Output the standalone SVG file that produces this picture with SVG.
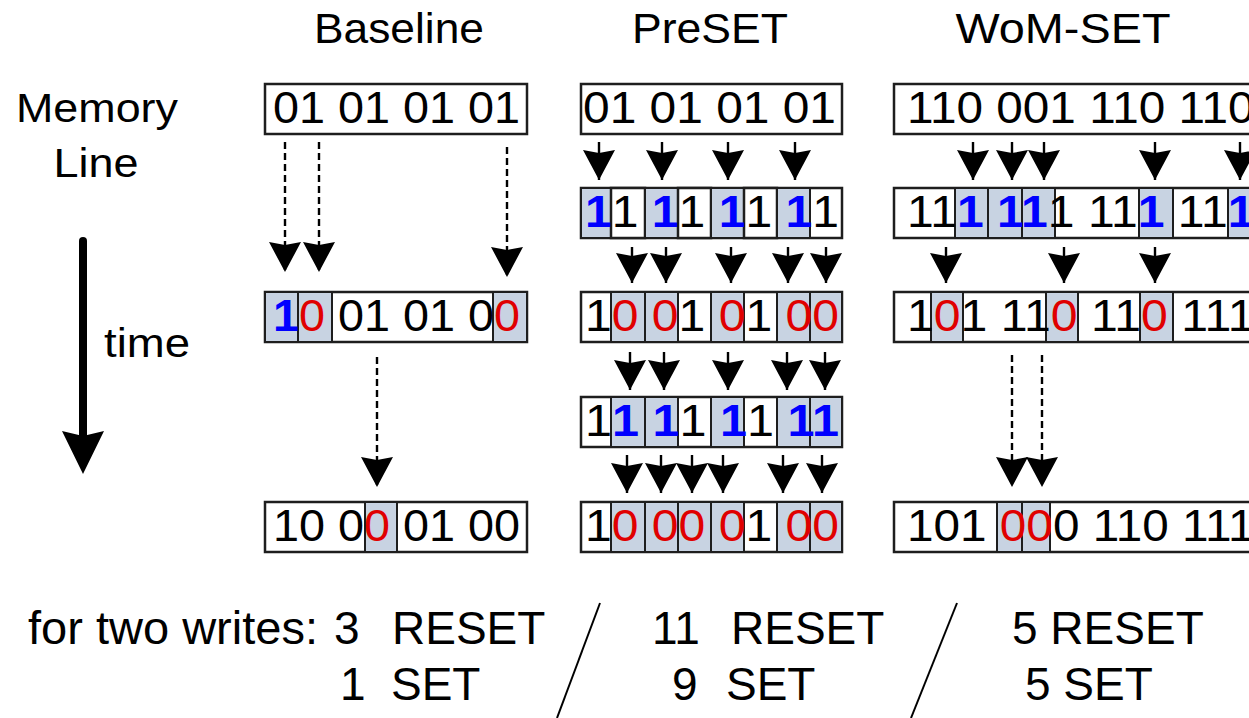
<svg xmlns="http://www.w3.org/2000/svg" width="1249" height="718" viewBox="0 0 1249 718">
<style>
text{font-family:"Liberation Sans",Arial,sans-serif;fill:#000}
.t{font-size:43px}
.lbl{font-size:41px}
.d{font-size:45px}
.bt{font-size:46px}
.b{fill:#0000ff;font-weight:bold}
.r{fill:#e00000}
.box{fill:#fff;stroke:#1e1e1e;stroke-width:2.5}
.c{fill:#c8d3e2;stroke:#1e1e1e;stroke-width:2}
.arr{stroke:#000;stroke-width:2.4;fill:none;marker-end:url(#ah)}
.dash{stroke-dasharray:7 4}
</style>
<defs>
<marker id="ah" viewBox="0 0 30 32" refX="30" refY="16" markerWidth="30" markerHeight="32" markerUnits="userSpaceOnUse" orient="auto">
<path d="M0,0 L30,16 L0,32 L3,16 Z" fill="#000"/>
</marker>
</defs>
<rect width="1249" height="718" fill="#fff"/>

<g id="titles">
<text class="t" x="399" y="43" text-anchor="middle" textLength="170" lengthAdjust="spacingAndGlyphs">Baseline</text>
<text class="t" x="710" y="43" text-anchor="middle" textLength="156" lengthAdjust="spacingAndGlyphs">PreSET</text>
<text class="t" x="1063" y="43" text-anchor="middle" textLength="215" lengthAdjust="spacingAndGlyphs">WoM-SET</text>
</g>

<g id="memory-line-label">
<text class="lbl" x="97" y="122" text-anchor="middle" textLength="162" lengthAdjust="spacingAndGlyphs">Memory</text>
<text class="lbl" x="96" y="177" text-anchor="middle" textLength="85" lengthAdjust="spacingAndGlyphs">Line</text>
</g>

<g id="time-axis">
<line x1="83" y1="241" x2="83" y2="440" stroke="#000" stroke-width="8" stroke-linecap="round"/>
<path d="M62,431 L83,436 L104,431 L83,474 Z" fill="#000"/>
<text class="lbl" x="104" y="357" textLength="86" lengthAdjust="spacingAndGlyphs">time</text>
</g>

<!-- Baseline column -->
<g id="baseline-row1">
<rect class="box" x="265" y="84" width="262" height="50"/>
<text class="d" x="273" y="123" textLength="247" lengthAdjust="spacingAndGlyphs">01 01 01 01</text>
</g>
<g id="baseline-row2">
<rect class="box" x="265" y="292" width="262" height="50"/>
<rect class="c" x="265" y="292" width="33" height="50"/>
<rect class="c" x="298" y="292" width="34" height="50"/>
<rect class="c" x="493" y="292" width="34" height="50"/>
<text class="d" x="273" y="331" textLength="247" lengthAdjust="spacingAndGlyphs"><tspan class="b">1</tspan><tspan class="r">0</tspan> 01 01 0<tspan class="r">0</tspan></text>
</g>
<g id="baseline-row3">
<rect class="box" x="265" y="502" width="262" height="50"/>
<rect class="c" x="365" y="502" width="32" height="50"/>
<text class="d" x="273" y="541" textLength="247" lengthAdjust="spacingAndGlyphs">10 0<tspan class="r">0</tspan> 01 00</text>
</g>

<!-- PreSET column -->
<g id="preset-row1">
<rect class="box" x="581" y="84" width="261" height="50"/>
<text class="d" x="583" y="123" textLength="253" lengthAdjust="spacingAndGlyphs">01 01 01 01</text>
</g>
<g id="preset-row2">
<rect class="box" x="581" y="188" width="261" height="50"/>
<rect class="c" x="581" y="188" width="30" height="50"/>
<rect class="box" x="611" y="188" width="34" height="50"/>
<rect class="c" x="645" y="188" width="33" height="50"/>
<rect class="box" x="678" y="188" width="33" height="50"/>
<rect class="c" x="711" y="188" width="33" height="50"/>
<rect class="box" x="744" y="188" width="33" height="50"/>
<rect class="c" x="777" y="188" width="33" height="50"/>
<text class="d" x="585" y="227" textLength="254" lengthAdjust="spacingAndGlyphs"><tspan class="b">1</tspan>1 <tspan class="b">1</tspan>1 <tspan class="b">1</tspan>1 <tspan class="b">1</tspan>1</text>
</g>
<g id="preset-row3">
<rect class="box" x="581" y="292" width="261" height="50"/>
<rect class="c" x="611" y="292" width="34" height="50"/>
<rect class="c" x="645" y="292" width="33" height="50"/>
<rect class="c" x="711" y="292" width="33" height="50"/>
<rect class="c" x="777" y="292" width="33" height="50"/>
<rect class="c" x="810" y="292" width="32" height="50"/>
<text class="d" x="585" y="331" textLength="254" lengthAdjust="spacingAndGlyphs">1<tspan class="r">0</tspan> <tspan class="r">0</tspan>1 <tspan class="r">0</tspan>1 <tspan class="r">00</tspan></text>
</g>
<g id="preset-row4">
<rect class="box" x="581" y="397" width="261" height="50"/>
<rect class="c" x="611" y="397" width="34" height="50"/>
<rect class="c" x="645" y="397" width="33" height="50"/>
<rect class="c" x="711" y="397" width="33" height="50"/>
<rect class="c" x="777" y="397" width="33" height="50"/>
<rect class="c" x="810" y="397" width="32" height="50"/>
<text class="d" x="585" y="436" textLength="254" lengthAdjust="spacingAndGlyphs">1<tspan class="b">1</tspan> <tspan class="b">1</tspan>1 <tspan class="b">1</tspan>1 <tspan class="b">11</tspan></text>
</g>
<g id="preset-row5">
<rect class="box" x="581" y="502" width="261" height="50"/>
<rect class="c" x="611" y="502" width="34" height="50"/>
<rect class="c" x="645" y="502" width="33" height="50"/>
<rect class="c" x="678" y="502" width="33" height="50"/>
<rect class="c" x="711" y="502" width="33" height="50"/>
<rect class="c" x="777" y="502" width="33" height="50"/>
<rect class="c" x="810" y="502" width="32" height="50"/>
<text class="d" x="585" y="541" textLength="254" lengthAdjust="spacingAndGlyphs">1<tspan class="r">0</tspan> <tspan class="r">00</tspan> <tspan class="r">0</tspan>1 <tspan class="r">00</tspan></text>
</g>

<!-- WoM-SET column -->
<g id="womset-row1">
<rect class="box" x="894" y="84" width="400" height="50"/>
<text class="d" x="907" y="123" textLength="347.5" lengthAdjust="spacingAndGlyphs">110 001 110 110</text>
</g>
<g id="womset-row2">
<rect class="box" x="894" y="188" width="400" height="50"/>
<rect class="c" x="955" y="188" width="33" height="50"/>
<rect class="c" x="988" y="188" width="34" height="50"/>
<rect class="c" x="1022" y="188" width="33" height="50"/>
<rect class="c" x="1139" y="188" width="34" height="50"/>
<rect class="c" x="1228" y="188" width="40" height="50"/>
<text class="d" x="907" y="227" textLength="347.5" lengthAdjust="spacingAndGlyphs">11<tspan class="b">1</tspan> <tspan class="b">11</tspan>1 11<tspan class="b">1</tspan> 11<tspan class="b">1</tspan></text>
</g>
<g id="womset-row3">
<rect class="box" x="894" y="292" width="400" height="50"/>
<rect class="c" x="931" y="292" width="32" height="50"/>
<rect class="c" x="1046" y="292" width="32" height="50"/>
<rect class="c" x="1140" y="292" width="33" height="50"/>
<text class="d" x="907" y="331" textLength="347.5" lengthAdjust="spacingAndGlyphs">1<tspan class="r">0</tspan>1 11<tspan class="r">0</tspan> 11<tspan class="r">0</tspan> 111</text>
</g>
<g id="womset-row4">
<rect class="box" x="894" y="502" width="400" height="50"/>
<rect class="c" x="997" y="502" width="25" height="50"/>
<rect class="c" x="1022" y="502" width="28" height="50"/>
<text class="d" x="907" y="541" textLength="347.5" lengthAdjust="spacingAndGlyphs">101 <tspan class="r">00</tspan>0 110 111</text>
</g>

<g id="connectors">
<!-- Baseline dashed -->
<line class="arr dash" x1="285" y1="142" x2="285" y2="272"/>
<line class="arr dash" x1="319" y1="142" x2="319" y2="272"/>
<line class="arr dash" x1="507" y1="147" x2="507" y2="277"/>
<line class="arr dash" x1="377" y1="357" x2="377" y2="487"/>
<!-- PreSET solid -->
<line class="arr" x1="599" y1="142" x2="599" y2="180"/>
<line class="arr" x1="662" y1="142" x2="662" y2="180"/>
<line class="arr" x1="728" y1="142" x2="728" y2="180"/>
<line class="arr" x1="795" y1="142" x2="795" y2="180"/>
<line class="arr" x1="632" y1="247" x2="632" y2="283"/>
<line class="arr" x1="666" y1="247" x2="666" y2="283"/>
<line class="arr" x1="731" y1="247" x2="731" y2="283"/>
<line class="arr" x1="788" y1="247" x2="788" y2="283"/>
<line class="arr" x1="826" y1="247" x2="826" y2="283"/>
<line class="arr" x1="630" y1="352" x2="630" y2="390"/>
<line class="arr" x1="664" y1="352" x2="664" y2="390"/>
<line class="arr" x1="728" y1="352" x2="728" y2="390"/>
<line class="arr" x1="787" y1="352" x2="787" y2="390"/>
<line class="arr" x1="825" y1="352" x2="825" y2="390"/>
<line class="arr" x1="627" y1="455" x2="627" y2="493"/>
<line class="arr" x1="661" y1="455" x2="661" y2="493"/>
<line class="arr" x1="692" y1="455" x2="692" y2="493"/>
<line class="arr" x1="723" y1="455" x2="723" y2="493"/>
<line class="arr" x1="783" y1="455" x2="783" y2="493"/>
<line class="arr" x1="822" y1="455" x2="822" y2="493"/>
<!-- WoM-SET -->
<line class="arr" x1="973" y1="142" x2="973" y2="180"/>
<line class="arr" x1="1012" y1="142" x2="1012" y2="180"/>
<line class="arr" x1="1044" y1="142" x2="1044" y2="180"/>
<line class="arr" x1="1155" y1="142" x2="1155" y2="180"/>
<line class="arr" x1="1240" y1="142" x2="1240" y2="180"/>
<line class="arr" x1="946" y1="247" x2="946" y2="283"/>
<line class="arr" x1="1064" y1="247" x2="1064" y2="283"/>
<line class="arr" x1="1155" y1="247" x2="1155" y2="283"/>
<line class="arr dash" x1="1012" y1="355" x2="1012" y2="487"/>
<line class="arr dash" x1="1042" y1="355" x2="1042" y2="487"/>
</g>

<g id="summary">
<text class="bt" y="644"><tspan x="28" textLength="290" lengthAdjust="spacingAndGlyphs">for two writes:</tspan><tspan x="334">3</tspan><tspan x="392">RESET</tspan><tspan x="652">11</tspan><tspan x="731">RESET</tspan><tspan x="1012">5 RESET</tspan></text>
<text class="bt" y="700"><tspan x="340">1</tspan><tspan x="391">SET</tspan><tspan x="672">9</tspan><tspan x="726">SET</tspan><tspan x="1025">5 SET</tspan></text>
<line x1="600" y1="603" x2="557" y2="718" stroke="#000" stroke-width="2"/>
<line x1="957" y1="603" x2="911" y2="718" stroke="#000" stroke-width="2"/>
</g>
</svg>
